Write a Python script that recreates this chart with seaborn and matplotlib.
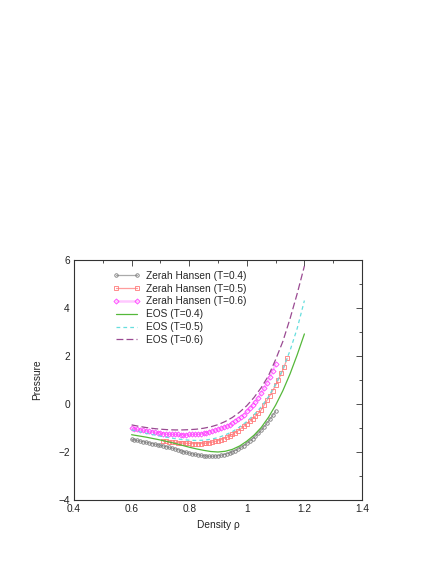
import numpy as np
import pandas as pd
import matplotlib
matplotlib.use("Agg")
import matplotlib.pyplot as plt
import seaborn as sns
from matplotlib.ticker import MultipleLocator

# ---------------- data ----------------
zh_x_04 = [0.60, 0.61, 0.62, 0.63, 0.64, 0.65, 0.66, 0.67, 0.68, 0.69,
           0.70, 0.71, 0.72, 0.73, 0.74, 0.75, 0.76, 0.77, 0.78, 0.79,
           0.80, 0.81, 0.82, 0.83, 0.84, 0.85, 0.86, 0.87, 0.88, 0.89,
           0.90, 0.91, 0.92, 0.93, 0.94, 0.95, 0.96, 0.97, 0.98, 0.99,
           1.00, 1.01, 1.02, 1.03, 1.04, 1.05, 1.06, 1.07, 1.08, 1.09, 1.10]
zh_p_04 = [-1.47, -1.50, -1.52, -1.55, -1.57, -1.60, -1.62, -1.65, -1.67, -1.70,
           -1.72, -1.75, -1.78, -1.81, -1.84, -1.87, -1.90, -1.94, -1.98, -2.02,
           -2.05, -2.08, -2.10, -2.12, -2.14, -2.16, -2.17, -2.18, -2.18, -2.17,
           -2.16, -2.14, -2.11, -2.08, -2.04, -1.99, -1.94, -1.88, -1.81, -1.73,
           -1.64, -1.55, -1.45, -1.34, -1.22, -1.09, -0.95, -0.80, -0.64, -0.47, -0.29]

zh_x_05 = [0.71, 0.72, 0.73, 0.74, 0.75, 0.76, 0.77, 0.78, 0.79,
           0.80, 0.81, 0.82, 0.83, 0.84, 0.85, 0.86, 0.87, 0.88, 0.89,
           0.90, 0.91, 0.92, 0.93, 0.94, 0.95, 0.96, 0.97, 0.98, 0.99,
           1.00, 1.01, 1.02, 1.03, 1.04, 1.05, 1.06, 1.07, 1.08, 1.09,
           1.10, 1.11, 1.12, 1.13, 1.14]
zh_p_05 = [-1.55, -1.56, -1.57, -1.58, -1.60, -1.61, -1.62, -1.63, -1.64,
           -1.64, -1.65, -1.65, -1.65, -1.65, -1.64, -1.63, -1.61, -1.59, -1.56,
           -1.53, -1.49, -1.44, -1.39, -1.33, -1.26, -1.19, -1.11, -1.02, -0.92,
           -0.82, -0.72, -0.61, -0.50, -0.38, -0.25, -0.05, 0.15, 0.35, 0.56,
           0.78, 1.02, 1.28, 1.56, 1.90]

zh_x_06 = [0.60, 0.61, 0.62, 0.63, 0.64, 0.65, 0.66, 0.67, 0.68, 0.69,
           0.70, 0.71, 0.72, 0.73, 0.74, 0.75, 0.76, 0.77, 0.78, 0.79,
           0.80, 0.81, 0.82, 0.83, 0.84, 0.85, 0.86, 0.87, 0.88, 0.89,
           0.90, 0.91, 0.92, 0.93, 0.94, 0.95, 0.96, 0.97, 0.98, 0.99,
           1.00, 1.01, 1.02, 1.03, 1.04, 1.05, 1.06, 1.07, 1.08, 1.09, 1.10]
zh_p_06 = [-1.00, -1.03, -1.06, -1.08, -1.10, -1.12, -1.14, -1.16, -1.18, -1.20,
           -1.21, -1.23, -1.24, -1.25, -1.26, -1.27, -1.27, -1.28, -1.28, -1.28,
           -1.27, -1.27, -1.26, -1.25, -1.23, -1.21, -1.19, -1.16, -1.13, -1.10,
           -1.06, -1.02, -0.97, -0.92, -0.86, -0.79, -0.72, -0.64, -0.55, -0.45,
           -0.30, -0.18, -0.05, 0.10, 0.27, 0.45, 0.65, 0.87, 1.11, 1.37, 1.65]

eos_x = [0.600, 0.625, 0.650, 0.675, 0.700, 0.725, 0.750, 0.775, 0.800,
         0.825, 0.850, 0.875, 0.900, 0.925, 0.950, 0.975, 1.000, 1.025,
         1.050, 1.075, 1.100, 1.125, 1.150, 1.175, 1.200]
eos_p_04 = [-1.28, -1.33, -1.38, -1.44, -1.50, -1.57, -1.64, -1.72, -1.80,
            -1.87, -1.93, -1.98, -2.00, -1.97, -1.89, -1.75, -1.55, -1.30,
            -0.98, -0.56, -0.05, 0.55, 1.25, 2.05, 2.92]
eos_p_05 = [-1.08, -1.15, -1.22, -1.28, -1.34, -1.39, -1.44, -1.48, -1.51,
            -1.52, -1.51, -1.47, -1.40, -1.29, -1.15, -0.96, -0.73, -0.45,
            -0.12, 0.30, 0.82, 1.45, 2.22, 3.15, 4.31]
eos_p_06 = [-0.87, -0.93, -0.98, -1.02, -1.05, -1.07, -1.08, -1.08, -1.07,
            -1.05, -1.01, -0.95, -0.86, -0.73, -0.56, -0.34, -0.07, 0.27,
            0.68, 1.17, 1.85, 2.60, 3.55, 4.60, 5.75]

labels = ["Zerah Hansen (T=0.4)", "Zerah Hansen (T=0.5)", "Zerah Hansen (T=0.6)",
          "EOS (T=0.4)", "EOS (T=0.5)", "EOS (T=0.6)"]
x_label = "Density ρ"
y_label = "Pressure"
x_ticks = [0.4, 0.6, 0.8, 1.0, 1.2, 1.4]
x_tick_labels = ["0.4", "0.6", "0.8", "1", "1.2", "1.4"]
y_ticks = [-4, -2, 0, 2, 4, 6]
y_tick_labels = ["−4", "−2", "0", "2", "4", "6"]

# ---------------- plot ----------------
sns.set_style("white")
plt.rcParams['font.family'] = ['Liberation Sans', 'DejaVu Sans']
FS = 7.3

fig = plt.figure(figsize=(4.36, 5.64), dpi=100)
ax = fig.add_axes([74/436, 1 - 500/564, 288/436, 240/564])

sns.lineplot(x=zh_x_04, y=zh_p_04, ax=ax, color="#aaaaaa", lw=0.9, marker="o",
             markersize=2.5, markerfacecolor="none", markeredgecolor="#7a7a7a",
             markeredgewidth=0.6, label=labels[0], sort=False, estimator=None)
sns.lineplot(x=zh_x_05, y=zh_p_05, ax=ax, color="#ff9c9c", lw=0.9, marker="s",
             markersize=2.4, markerfacecolor="none", markeredgecolor="#ff7a7a",
             markeredgewidth=0.6, label=labels[1], sort=False, estimator=None)
sns.lineplot(x=zh_x_06, y=zh_p_06, ax=ax, color="#ffc8ff", lw=1.8, marker="D",
             markersize=2.6, markerfacecolor="none", markeredgecolor="#ff40ff",
             markeredgewidth=0.6, label=labels[2], sort=False, estimator=None)
sns.lineplot(x=eos_x, y=eos_p_04, ax=ax, color="#55b83a", lw=0.9,
             label=labels[3], sort=False, estimator=None)
sns.lineplot(x=eos_x, y=eos_p_05, ax=ax, color="#66dede", lw=0.9,
             label=labels[4], sort=False, estimator=None)
sns.lineplot(x=eos_x, y=eos_p_06, ax=ax, color="#9a4a92", lw=0.9,
             label=labels[5], sort=False, estimator=None)
lines = ax.get_lines()
lines[4].set_dashes((3, 2.5))
lines[5].set_dashes((5.5, 2.5))

ax.set_xlim(0.4, 1.4)
ax.set_ylim(-4, 6)
ax.set_xticks(x_ticks)
ax.set_xticklabels(x_tick_labels)
ax.set_yticks(y_ticks)
ax.set_yticklabels(y_tick_labels)
ax.xaxis.set_minor_locator(MultipleLocator(0.1))
ax.yaxis.set_minor_locator(MultipleLocator(1))
ax.tick_params(which="both", direction="in", top=True, right=True,
               labelsize=FS, colors="#333333", labelcolor="#222222")
ax.tick_params(which="major", length=4.5, width=0.6, pad=3)
ax.tick_params(which="minor", length=2.5, width=0.6)
for s in ax.spines.values():
    s.set_color("#333333")
    s.set_linewidth(0.8)
ax.set_xlabel(x_label, fontsize=FS, color="#222222", labelpad=4)
ax.set_ylabel(y_label, fontsize=FS, color="#222222", labelpad=12)

leg = ax.legend(loc="upper left", bbox_to_anchor=(0.135, 0.955), frameon=False,
                fontsize=FS, numpoints=2, handlelength=2.66, handletextpad=0.6,
                borderpad=0, borderaxespad=0, labelspacing=0.28)

fig.savefig("out.png", dpi=100, facecolor="white")
